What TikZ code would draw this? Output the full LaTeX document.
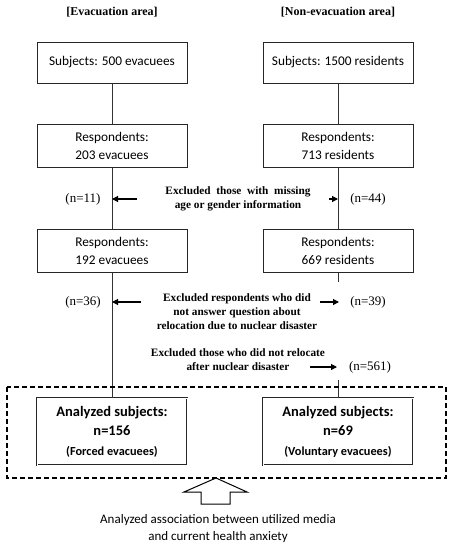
\documentclass[tikz,border=0pt]{standalone}
\usepackage{fontspec}
\setmainfont{Carlito}
\newfontfamily\tms{Liberation Serif}
\usetikzlibrary{arrows.meta}
\begin{document}
\begin{tikzpicture}[x=1pt,y=-1pt,
  box/.style={draw=black!85,line width=1pt,minimum width=150pt,minimum height=41pt,inner sep=0pt,align=center,font=\fontsize{13.3}{18}\selectfont},
  abox/.style={draw=black!85,line width=0.9pt,double,double distance=0.9pt,minimum width=150pt,minimum height=67pt,inner sep=0pt,align=center,font=\bfseries\fontsize{14.5}{19.5}\selectfont},
  ttl/.style={font=\tms\bfseries\fontsize{12}{15}\selectfont},
  excl/.style={font=\tms\bfseries\fontsize{11.3}{14}\selectfont,align=center},
  cnt/.style={font=\tms\fontsize{13}{15}\selectfont},
  conn/.style={draw=black!80,line width=1pt},
  arr/.style={draw=black,line width=1.1pt,-{Triangle[length=6pt,width=6pt]}}
]
\useasboundingbox (0,0) rectangle (453,550);
\node[ttl] (t1) at (112,12) {[Evacuation area]};
\node[ttl] (t2) at (338,12) {[Non-evacuation area]};

\node[box] (s1) at (112,62.5) {Subjects: 500 evacuees};
\node[box] (s2) at (338,62.5) {Subjects: 1500 residents};
\node[box,minimum height=43pt] (r1) at (112,145.5) {Respondents:\\203 evacuees};
\node[box,minimum height=43pt] (r2) at (338,145.5) {Respondents:\\713 residents};
\node[box,minimum height=43pt] (q1) at (112,250.5) {Respondents:\\192 evacuees};
\node[box,minimum height=43pt] (q2) at (338,250.5) {Respondents:\\669 residents};

\node[abox] (a1) at (112,431.5) {Analyzed subjects:\\n=156\\{\fontsize{12.3}{15}\selectfont(Forced evacuees)}};
\node[abox] (a2) at (338,431.5) {Analyzed subjects:\\n=69\\{\fontsize{12.3}{15}\selectfont(Voluntary evacuees)}};

\draw[conn] (s1) -- (r1);
\draw[conn] (s2) -- (r2);
\draw[conn] (r1) -- (q1);
\draw[conn] (r2) -- (q2);
\draw[conn] (q1) -- (a1);
\coordinate (g1) at (338,282);
\coordinate (g2) at (338,380);
\draw[conn] (q2) -- (g1);
\draw[conn] (g2) -- (a2);

\draw[line width=1.8pt,dash pattern=on 5pt off 3pt] (7,387) rectangle (446,478);

% exclusion 1
\node[excl] (e1) at (238,198.5) {Excluded\ \ those\ \ with\ \ missing\\age or gender information};
\node[cnt] (n11) at (83,199) {(n=11)};
\node[cnt] (n44) at (368,199) {(n=44)};
\coordinate (l1) at (112,199);
\coordinate (l1s) at (137,199);
\coordinate (rr1) at (338,199);
\coordinate (rr1s) at (329,199);
\draw[arr] (l1s) -- (l1);
\draw[arr] (rr1s) -- (rr1);

% exclusion 2
\node[excl] (e2) at (237,311.5) {Excluded respondents who did\\not answer question about\\relocation due to nuclear disaster};
\node[cnt] (n36) at (83,302) {(n=36)};
\node[cnt] (n39) at (368,302) {(n=39)};
\coordinate (l2) at (112,302);
\coordinate (l2s) at (141,302);
\coordinate (rr2s) at (320,302);
\coordinate (rr2) at (339,302);
\draw[arr] (l2s) -- (l2);
\draw[arr] (rr2s) -- (rr2);

% exclusion 3
\node[excl] (e3) at (238,360) {Excluded those who did not relocate\\after nuclear disaster};
\node[cnt] (n561) at (370,367) {(n=561)};
\coordinate (rr3s) at (310,367);
\coordinate (rr3) at (337,367);
\draw[arr] (rr3s) -- (rr3);

% block arrow
\draw[line width=1pt,fill=white,line join=miter] (216,478) -- (247,492) -- (230,492) -- (230,504) -- (201,504) -- (201,492) -- (184,492) -- cycle;
\node[font=\fontsize{13}{17}\selectfont,align=center] (bt) at (218,528.5) {Analyzed association between utilized media\\and current health anxiety};
\end{tikzpicture}
\end{document}
